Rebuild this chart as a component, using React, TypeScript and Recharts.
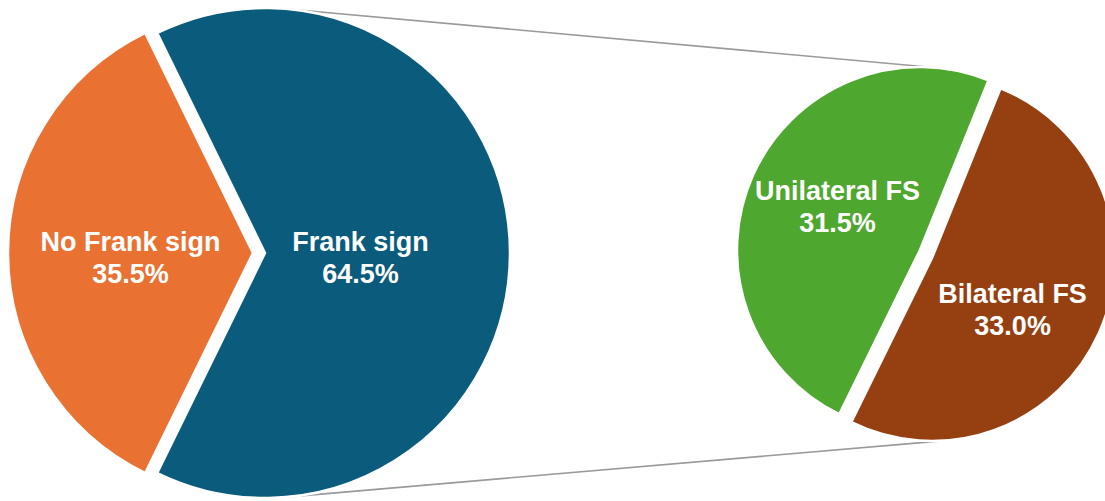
import React from 'react';
import { PieChart, Pie, Cell } from 'recharts';

const mainNames = ['Frank sign', 'No Frank sign'];
const mainValues = [64.5, 35.5];
const subNames = ['Unilateral FS', 'Bilateral FS'];
const subValues = [31.5, 33.0];

const mainData = mainNames.map((name, i) => ({ name, value: mainValues[i] }));
const subData = subNames.map((name, i) => ({ name, value: subValues[i] }));

const W = 1105;
const H = 501;
const RAD = Math.PI / 180;
const FONT = "'Liberation Sans', Arial, sans-serif";

const COLORS: Record<string, string> = {
    'Frank sign': '#0B5B7C',
    'No Frank sign': '#E97132',
    'Unilateral FS': '#4EA72E',
    'Bilateral FS': '#964011',
};

// each slice gets its own centre so the pies look exploded
const SLICE_POS: Record<string, { cx: number; cy: number; r: number }> = {
    'Frank sign': { cx: 265, cy: 253, r: 245 },
    'No Frank sign': { cx: 253, cy: 253, r: 245 },
    'Unilateral FS': { cx: 920, cy: 250, r: 183 },
    'Bilateral FS': { cx: 932, cy: 258, r: 183 },
};

// label distance (share of radius) and turn away from the slice mid angle
const LABEL_POS: Record<string, { d: number; turn: number }> = {
    'Frank sign': { d: 0.39, turn: -2.4 },
    'No Frank sign': { d: 0.5, turn: 1.9 },
    'Unilateral FS': { d: 0.51, turn: -3.9 },
    'Bilateral FS': { d: 0.52, turn: -8 },
};

const mainStart = -(mainValues[0] / (mainValues[0] + mainValues[1])) * 180;
const subStart = 68;

const makeLabel = (visible: string) => (props: any) => {
    const name = props.name ?? props.payload?.name;
    if (name !== visible) return null;
    const value = props.value ?? props.payload?.value;
    const lp = LABEL_POS[name];
    const a = (props.midAngle + lp.turn) * RAD;
    const x = props.cx + props.outerRadius * lp.d * Math.cos(a);
    const y = props.cy - props.outerRadius * lp.d * Math.sin(a);
    return (
        <text x={x} y={y} textAnchor="middle" fill="#fff" fontSize={27} fontWeight="bold" fontFamily={FONT}>
            <tspan x={x} y={y - 6}>{name}</tspan>
            <tspan x={x} y={y + 26}>{`${Number(value).toFixed(1)}%`}</tspan>
        </text>
    );
};

// outer tangent between two circles, screen coords
const tangent = (a: { cx: number; cy: number; r: number }, b: { cx: number; cy: number; r: number }, upper: boolean) => {
    const dx = b.cx - a.cx;
    const dy = -(b.cy - a.cy);
    const L = Math.sqrt(dx * dx + dy * dy);
    const alpha = Math.atan2(dy, dx);
    const phi = alpha + (upper ? 1 : -1) * Math.acos((a.r - b.r) / L);
    return {
        x1: a.cx + a.r * Math.cos(phi),
        y1: a.cy - a.r * Math.sin(phi),
        x2: b.cx + b.r * Math.cos(phi),
        y2: b.cy - b.r * Math.sin(phi),
    };
};

const App: React.FC = () => {
    const topLine = tangent(SLICE_POS['Frank sign'], SLICE_POS['Unilateral FS'], true);
    const bottomLine = tangent(SLICE_POS['Frank sign'], SLICE_POS['Bilateral FS'], false);

    const renderPie = (visible: string, data: { name: string; value: number }[], start: number) => {
        const pos = SLICE_POS[visible];
        return (
            <Pie
                key={visible}
                data={data}
                dataKey="value"
                nameKey="name"
                cx={pos.cx}
                cy={pos.cy}
                outerRadius={pos.r}
                startAngle={start}
                endAngle={start + 360}
                label={makeLabel(visible)}
                labelLine={false}
                isAnimationActive={false}
            >
                {data.map((entry, i) => (
                    <Cell
                        key={`cell-${i}`}
                        fill={entry.name === visible ? COLORS[entry.name] : 'none'}
                        stroke={entry.name === visible ? '#fff' : 'none'}
                        strokeWidth={2.5}
                    />
                ))}
            </Pie>
        );
    };

    return (
        <div style={{ position: 'absolute', left: 0, top: 0, width: W, height: H, background: '#fff', overflow: 'hidden' }}>
            <svg width={W} height={H} style={{ position: 'absolute', left: 0, top: 0 }}>
                <line {...topLine} stroke="#9A9A9A" strokeWidth={1.6} />
                <line {...bottomLine} stroke="#9A9A9A" strokeWidth={1.6} />
            </svg>
            <div style={{ position: 'absolute', left: 0, top: 0 }}>
                <PieChart width={W} height={H} margin={{ top: 0, right: 0, bottom: 0, left: 0 }}>
                    {renderPie('Frank sign', mainData, mainStart)}
                    {renderPie('No Frank sign', mainData, mainStart)}
                    {renderPie('Unilateral FS', subData, subStart)}
                    {renderPie('Bilateral FS', subData, subStart)}
                </PieChart>
            </div>
        </div>
    );
};

export default App;
